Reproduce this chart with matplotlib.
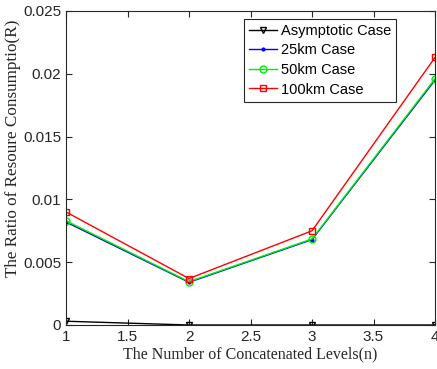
import matplotlib
matplotlib.use("Agg")
import matplotlib.pyplot as plt

# Datos
niveles = [1, 2, 3, 4]
asintotico = [0.0003, 0.0, 0.0, 0.0]
caso_25km = [0.0082, 0.0034, 0.0068, 0.0195]
caso_50km = [0.0083, 0.00345, 0.00685, 0.0196]
caso_100km = [0.0090, 0.0037, 0.0075, 0.0213]

fig = plt.figure(figsize=(4.37, 3.69), dpi=100)
ax = fig.add_axes([66 / 437, 1 - 325 / 369, (435 - 66) / 437, (325 - 11) / 369])

ax.plot(niveles, asintotico, color='black', marker='v', markersize=5,
        markerfacecolor='none', linewidth=1, label='Asymptotic Case')
ax.plot(niveles, caso_25km, color='blue', marker='.', markersize=4,
        linewidth=1, label='25km Case')
ax.plot(niveles, caso_50km, color='#00ee00', marker='o', markersize=5,
        markerfacecolor='none', linewidth=1, label='50km Case')
ax.plot(niveles, caso_100km, color='red', marker='s', markersize=5,
        markerfacecolor='none', linewidth=1, label='100km Case')

ax.set_xlim(1, 4)
ax.set_ylim(0, 0.025)
ax.set_xticks([1, 1.5, 2, 2.5, 3, 3.5, 4])
ax.set_xticklabels(['1', '1.5', '2', '2.5', '3', '3.5', '4'])
ax.set_yticks([0, 0.005, 0.01, 0.015, 0.02, 0.025])
ax.set_yticklabels(['0', '0.005', '0.01', '0.015', '0.02', '0.025'])
ax.tick_params(direction='in', top=True, right=True, length=4,
               labelsize=11, colors='#262626')
for lbl in ax.get_xticklabels() + ax.get_yticklabels():
    lbl.set_family('Liberation Sans')
    lbl.set_color('#262626')
for s in ax.spines.values():
    s.set_color('#262626')

ax.set_xlabel('The Number of Concatenated Levels(n)', family='Liberation Serif',
              fontsize=11.5, color='#262626', labelpad=2)
ax.set_ylabel('The Ratio of Resoure Consumptio(R)', family='Liberation Serif',
              fontsize=12.3, color='#262626')
ax.yaxis.set_label_coords(-0.122, 0.564)

leg = ax.legend(loc='upper right', bbox_to_anchor=(0.895, 0.975),
                prop={'family': 'Liberation Sans', 'size': 10.5},
                fancybox=False, edgecolor='#262626', framealpha=1,
                handlelength=1.9, handletextpad=0.3, borderpad=0.35,
                labelspacing=0.38, borderaxespad=0)
leg.get_frame().set_linewidth(0.8)

fig.savefig('out.png', dpi=100)
